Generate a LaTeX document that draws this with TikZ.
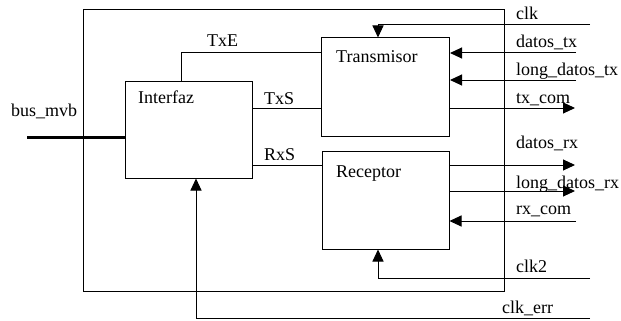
\documentclass[tikz,border=0pt]{standalone}
\usepackage{fontspec}
\setmainfont{Liberation Serif}
\usetikzlibrary{arrows.meta}
\begin{document}
\begin{tikzpicture}[x=1pt,y=-1pt,
  blk/.style={draw,line width=1pt,inner sep=0pt},
  lbl/.style={anchor=base west,inner sep=0pt,font=\fontsize{18}{20}\selectfont},
  sig/.style={line width=1pt},
  arr/.style={sig,-{Triangle[length=12pt,width=11pt]}}]
\useasboundingbox (0,0) rectangle (621,321);
% blocks
\node[blk,minimum width=421pt,minimum height=281pt] (outer) at (293.5,150.5) {};
\node[blk,minimum width=127pt,minimum height=97pt] (intf) at (188.5,129.5) {};
\node[blk,minimum width=128pt,minimum height=98pt] (tx) at (385.5,87) {};
\node[blk,minimum width=127pt,minimum height=98pt] (rx) at (385.5,200) {};
% block labels
\node[lbl] (lintf) at (138,103) {Interfaz};
\node[lbl] (ltx) at (336,63) {Transmisor};
\node[lbl] (lrx) at (336,177) {Receptor};
% internal labels
\node[lbl] (lbus) at (11,116) {bus\_mvb};
\node[lbl] (ltxe) at (207,47) {TxE};
\node[lbl] (ltxs) at (264,104) {TxS};
\node[lbl] (lrxs) at (264,160) {RxS};
% right labels
\node[lbl] (lclk) at (516,20) {clk};
\node[lbl] (ldtx) at (516,48) {datos\_tx};
\node[lbl] (lldtx) at (516,75) {long\_datos\_tx};
\node[lbl] (ltxc) at (516,103) {tx\_com};
\node[lbl] (ldrx) at (516,148) {datos\_rx};
\node[lbl] (lldrx) at (516,188) {long\_datos\_rx};
\node[lbl] (lrxc) at (516,214) {rx\_com};
\node[lbl] (lclk2) at (516,272) {clk2};
\node[lbl] (lclke) at (502,313) {clk\_err};
% free ends
\coordinate (busL) at (27,137);
\coordinate (txeT) at (181,53);
\coordinate (clkR) at (590,25);
\coordinate (dtx) at (576,53);
\coordinate (ldtx) at (576,80);
\coordinate (txc) at (575,108);
\coordinate (drx) at (575,165);
\coordinate (ldrx) at (575,191);
\coordinate (rxc) at (576,221);
\coordinate (clk2R) at (590,278);
\coordinate (clkeR) at (590,318);
% connectors
\draw[line width=3pt] (busL) -- (busL -| intf.west);
\draw[sig] (txeT |- intf.north) |- (tx.west |- txeT);
\draw[sig] (intf.east |- 0,108) -- (tx.west |- 0,108);
\draw[sig] (intf.east |- 0,165) -- (rx.west |- 0,165);
\draw[arr] (clkR) -| (tx.north -| 378,0);
\draw[arr] (dtx) -- (tx.east |- dtx);
\draw[arr] (ldtx) -- (tx.east |- ldtx);
\draw[arr] (tx.east |- txc) -- (txc);
\draw[arr] (rx.east |- drx) -- (drx);
\draw[arr] (rx.east |- ldrx) -- (ldrx);
\draw[arr] (rxc) -- (rx.east |- rxc);
\draw[arr] (clk2R) -| (rx.south -| 378,0);
\draw[arr] (clkeR) -| (intf.south -| 196,0);
\end{tikzpicture}
\end{document}
